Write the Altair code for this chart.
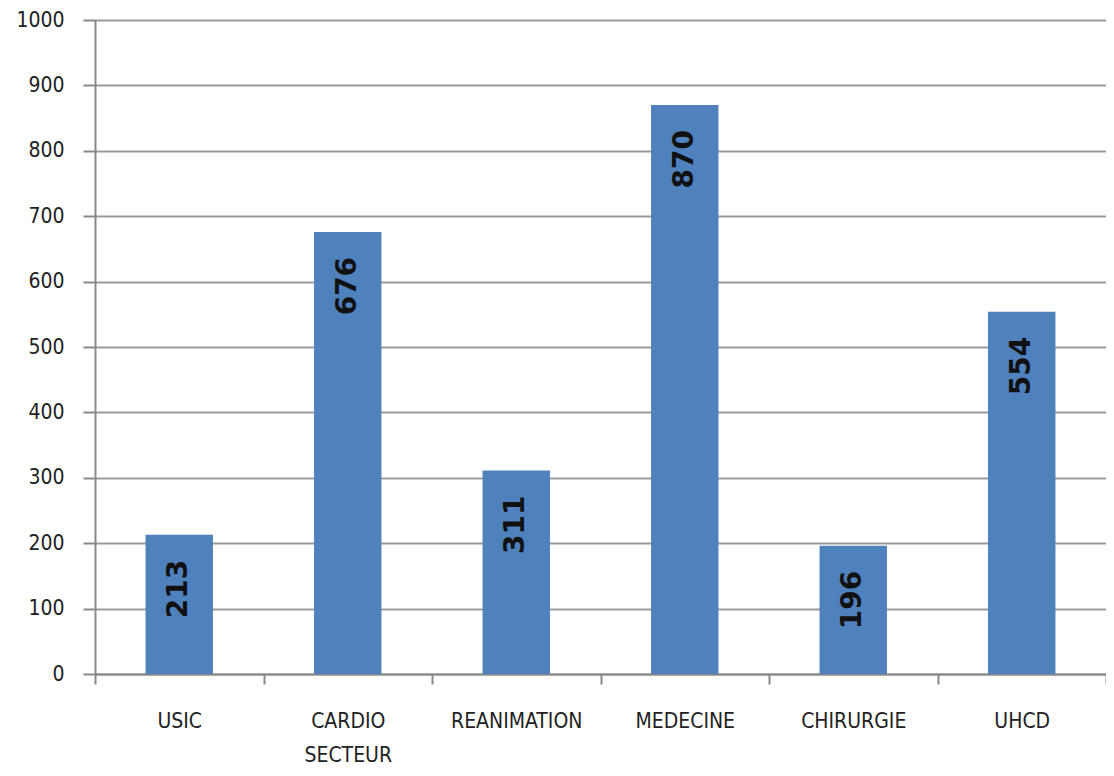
import altair as alt
import pandas as pd

categories = ["USIC", "CARDIO\nSECTEUR", "REANIMATION", "MEDECINE", "CHIRURGIE", "UHCD"]
values = [213, 676, 311, 870, 196, 554]

df = pd.DataFrame({"cat": categories, "val": values})

x = alt.X("cat:N", sort=categories,
          scale=alt.Scale(paddingInner=0, paddingOuter=0),
          axis=alt.Axis(title=None, labelAngle=0, tickBand="extent",
                        labelExpr="split(datum.label, '\\n')",
                        labelFont="DejaVu Sans Condensed", labelFontSize=21,
                        labelColor="#222222", labelLineHeight=34,
                        labelPadding=26, tickSize=10, tickColor="#888888",
                        domainColor="#888888", domainWidth=2, tickWidth=2,
                        grid=False))
y = alt.Y("val:Q", scale=alt.Scale(domain=[0, 1000], nice=False),
          axis=alt.Axis(title=None, values=list(range(0, 1001, 100)), format="d",
                        labelFont="DejaVu Sans Condensed", labelFontSize=21,
                        labelColor="#222222", labelPadding=19, tickSize=12,
                        tickColor="#888888", tickWidth=2, domainColor="#888888",
                        domainWidth=2, gridColor="#999999", gridWidth=2))

bars = alt.Chart(df).mark_bar(color="#4F81BD", width=alt.RelativeBandSize(0.4)).encode(x=x, y=y)
labels = alt.Chart(df).mark_text(angle=270, align="right", baseline="middle",
                                 dx=-25, font="DejaVu Sans", fontWeight="bold",
                                 fontSize=28, color="#111111").encode(
    x=alt.X("cat:N", sort=categories), y="val:Q", text="val:Q")

chart = (bars + labels).properties(
    width=1011, height=654,
    padding={"left": 87, "top": 12, "right": 0, "bottom": 94},
    autosize=alt.AutoSizeParams(type="none"),
).configure_view(stroke=None).configure(background="white")

chart.save("out.html", embed_options={"renderer": "svg", "actions": False})
